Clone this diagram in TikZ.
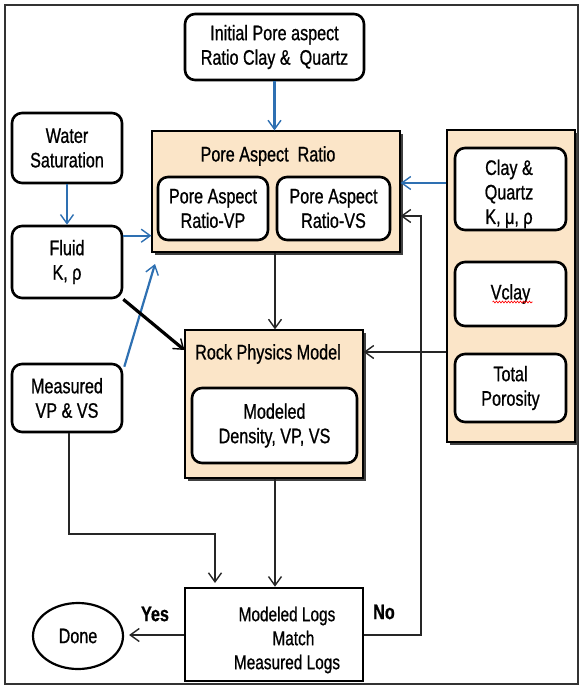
\documentclass[tikz,border=0pt]{standalone}
\usepackage{fontspec}
\setmainfont{Liberation Sans}[FakeStretch=0.77,FakeBold=0.8]
\usetikzlibrary{arrows.meta,shadows,decorations.pathmorphing,calc,shapes.geometric}
\definecolor{tanfill}{RGB}{251,229,200}
\definecolor{ablue}{RGB}{46,112,178}
\begin{document}
\begin{tikzpicture}[x=1pt,y=-1pt,
 txt/.style={font=\fontsize{21}{24.5}\selectfont, align=center},
 rbox/.style={draw, line width=2.6pt, rounded corners=10pt, fill=white, inner sep=0pt, txt},
 cont/.style={draw, line width=1.2pt, fill=tanfill, inner sep=0pt,
   drop shadow={shadow xshift=2.5pt, shadow yshift=-2.5pt, fill=black!75, opacity=1}},
 barb/.style={-{Straight Barb[length=9pt,width=13pt,line width=1.4pt]}},
 bluearr/.style={barb, draw=ablue, line width=2.2pt},
 blackarr/.style={barb, draw=black!85, line width=2.2pt}]
\useasboundingbox (0,0) rectangle (581,686);
\node[draw=black!80, line width=1.5pt, minimum width=573pt, minimum height=679pt, inner sep=0pt] (frame) at (291.5,344.5) {};
% containers
\node[cont, minimum width=248pt, minimum height=121pt] (par) at (276,191.5) {};
\node[txt] (partitle) at (268,156) {Pore Aspect\ \ Ratio};
\node[cont, minimum width=128pt, minimum height=312pt] (right) at (511,286) {};
\node[cont, minimum width=178pt, minimum height=148pt] (rpm) at (274,404) {};
\node[txt] (rpmtitle) at (268,354) {Rock Physics Model};
% boxes
\node[rbox, minimum width=179pt, minimum height=66pt] (init) at (274.5,47) {Initial Pore aspect\\Ratio Clay \&\ \ Quartz};
\node[rbox, minimum width=110pt, minimum height=63pt] (parvp) at (213,208.5) {Pore Aspect\\Ratio-VP};
\node[rbox, minimum width=113pt, minimum height=63pt] (parvs) at (333.5,208.5) {Pore Aspect\\Ratio-VS};
\node[rbox, minimum width=110pt, minimum height=70pt] (water) at (67,148) {Water\\Saturation};
\node[rbox, minimum width=110pt, minimum height=72pt] (fluid) at (67,262) {Fluid\\K, ρ};
\node[rbox, minimum width=110pt, minimum height=68pt] (meas) at (67,398) {Measured\\VP \& VS};
\node[rbox, minimum width=165pt, minimum height=75pt] (mod) at (274.5,425.5) {Modeled\\Density, VP, VS};
\node[rbox, minimum width=111pt, minimum height=82pt] (clay) at (510.5,189) {};
\node[txt] (claytxt) at (509,194) {Clay \&\\Quartz\\K, μ, ρ};
\node[rbox, minimum width=111pt, minimum height=64pt] (vclay) at (510.5,294) {Vclay};
\draw[red, line width=0.6pt, decorate, decoration={snake, amplitude=1pt, segment length=3pt}] ($(vclay.center)+(-18,8)$) -- ($(vclay.center)+(22,8)$);
\node[rbox, minimum width=111pt, minimum height=68pt] (tpor) at (510.5,388) {Total\\Porosity};
\node[draw, line width=2.6pt, fill=white, minimum width=178pt, minimum height=93pt, inner sep=0pt] (logs) at (274,634.5) {};
\node[txt, font=\fontsize{20}{24}\selectfont] (logstxt) at (287,640) {Modeled Logs\\\ \ \ Match\\Measured Logs};
\node[draw, ellipse, line width=2.2pt, minimum width=90pt, minimum height=66pt, inner sep=0pt, txt] (done) at (78,636) {Done};
\node[txt, font=\bfseries\fontsize{21}{24}\selectfont] (yes) at (155,614) {Yes};
\node[txt, font=\bfseries\fontsize{21}{24}\selectfont] (no) at (384,612) {No};
% helper coordinates
\coordinate (fluidout) at ($(fluid.north east)+(0,11)$);
\coordinate (measout) at ($(meas.north east)+(1,4)$);
\coordinate (measend) at (155,264);
\coordinate (nocorner1) at (421,635);
\coordinate (nocorner2) at (421,216);
\coordinate (measc1) at (69,534);
\coordinate (measc2) at (215,534);
\coordinate (measend2) at (215,583);
% blue arrows
\draw[bluearr] (init.south) -- (init.south |- par.north);
\draw[bluearr] (water.south) -- (fluid.north);
\draw[bluearr] (fluidout) -- (fluidout -| par.west);
\draw[bluearr] (measout) -- (measend);
\draw[bluearr] (right.west |- 0,183) -- (par.east |- 0,183);
% black arrows
\draw[barb, draw=black, line width=3.2pt] (fluid.south east) -- (rpm.west |- 0,350);
\draw[blackarr] (par.south -| 275,0) -- (rpm.north -| 275,0);
\draw[blackarr] (right.west |- 0,352) -- (rpm.east |- 0,352);
\draw[blackarr] (rpm.south -| 275,0) -- (logs.north -| 275,0);
\draw[blackarr] (meas.south -| measc1) -- (measc1) -- (measc2) -- (measend2);
\draw[blackarr] (logs.east |- nocorner1) -- (nocorner1) -- (nocorner2) -- (par.east |- nocorner2);
\draw[blackarr, shorten >=5pt] (logs.west |- 0,635) -- (done.east |- 0,635);
\end{tikzpicture}
\end{document}
